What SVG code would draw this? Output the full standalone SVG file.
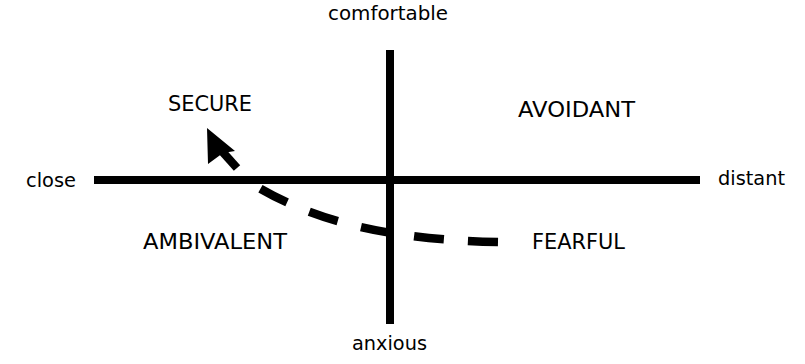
<svg xmlns="http://www.w3.org/2000/svg" width="805" height="364" viewBox="0 0 805 364">
<style>
.axis{stroke:#000;stroke-width:8;fill:none}
.lbl{font-family:"DejaVu Sans",sans-serif;font-size:19.5px;fill:#000}
.cap{font-family:"DejaVu Sans",sans-serif;font-size:21px;fill:#000}
.dash{stroke:#000;stroke-width:8.5;fill:none;stroke-dasharray:30 24}
</style>
<rect width="805" height="364" fill="#fff"/>
<g id="axes">
<line class="axis" x1="94" y1="180" x2="700" y2="180"/>
<line class="axis" x1="390" y1="50" x2="390" y2="324"/>
</g>
<g id="connectors">
<path class="dash" d="M498,242 C400,240 320,225 254,185"/>
<line x1="237" y1="168" x2="220" y2="149" stroke="#000" stroke-width="8.5"/>
<polygon points="207,128 235,151 223,153 208,164" fill="#000"/>
</g>
<g id="comfortable"><text class="lbl" x="328" y="20" textLength="120" lengthAdjust="spacingAndGlyphs">comfortable</text></g>
<g id="anxious"><text class="lbl" x="352" y="350" textLength="75" lengthAdjust="spacingAndGlyphs">anxious</text></g>
<g id="close"><text class="lbl" x="26" y="187" textLength="50" lengthAdjust="spacingAndGlyphs">close</text></g>
<g id="distant"><text class="lbl" x="718" y="185" textLength="67" lengthAdjust="spacingAndGlyphs">distant</text></g>
<g id="secure"><text class="cap" x="168" y="111" textLength="84" lengthAdjust="spacingAndGlyphs">SECURE</text></g>
<g id="avoidant"><text class="cap" x="518" y="117" textLength="117" lengthAdjust="spacingAndGlyphs">AVOIDANT</text></g>
<g id="ambivalent"><text class="cap" x="143" y="249" textLength="144" lengthAdjust="spacingAndGlyphs">AMBIVALENT</text></g>
<g id="fearful"><text class="cap" x="532" y="249" textLength="93" lengthAdjust="spacingAndGlyphs">FEARFUL</text></g>
</svg>
